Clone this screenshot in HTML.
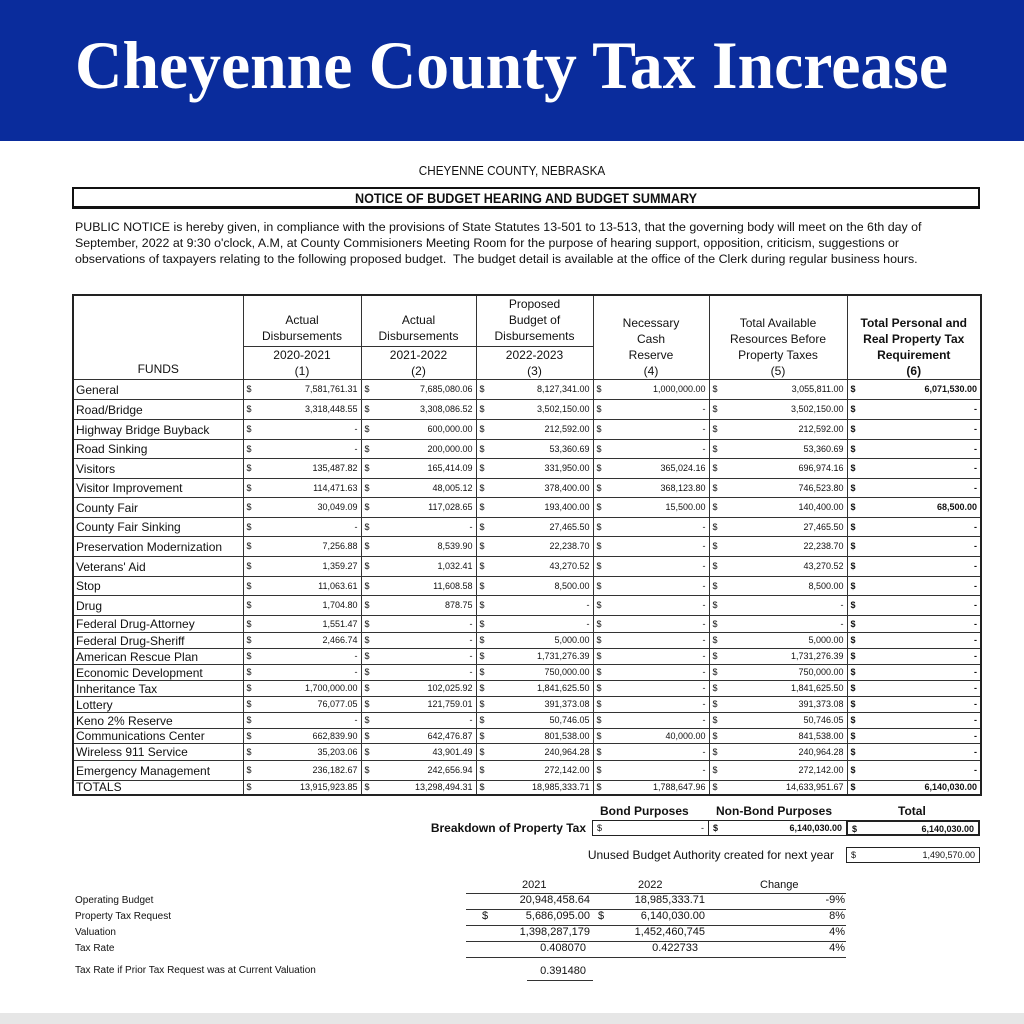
<!DOCTYPE html>
<html><head><meta charset="utf-8"><style>
*{margin:0;padding:0;box-sizing:border-box}
body{width:1024px;height:1024px;background:#fff;position:relative;overflow:hidden;font-family:"Liberation Sans",Arial,sans-serif;color:#111}
.a{position:absolute}
table.m{position:absolute;left:72px;top:294px;border-collapse:collapse;table-layout:fixed;border:2px solid #222}
table.m td{border:1px solid #333;font-size:9px;padding:0 3px;white-space:nowrap;overflow:hidden;text-align:right;vertical-align:middle;line-height:1}
table.m td:first-child{text-align:left;font-size:12px;padding-left:2px}
table.m td i{font-style:normal;float:left}
table.m td.b{font-weight:bold}
table.m tr.h td{text-align:center;font-size:12px;line-height:16px;vertical-align:bottom;padding:0}
.box{position:absolute;border:1.5px solid #222;height:16px;font-size:9px;line-height:14px;padding:0 4px;text-align:right}
.box i{font-style:normal;float:left}
.ln{position:absolute;height:0;border-top:1.5px solid #333}
.lt{position:absolute;font-size:11px}
</style></head><body>
<div class="a" style="left:0;top:0;width:1024px;height:141px;background:#0a2c9c"></div>
<svg class="a" style="left:0;top:0" width="1024" height="141"><text x="75" y="88" textLength="873" lengthAdjust="spacingAndGlyphs" font-family="Liberation Serif, serif" font-weight="bold" font-size="68" fill="#fff">Cheyenne County Tax Increase</text></svg>
<div class="a" style="left:0;top:163px;width:1024px;text-align:center;font-size:13px;transform:scaleX(.9)">CHEYENNE COUNTY, NEBRASKA</div>
<div class="a" style="left:72px;top:187px;width:908px;height:22px;border:2px solid #111;border-bottom-width:3px;text-align:center;font-weight:bold;font-size:14px;line-height:18px"><span style="display:inline-block;transform:scaleX(.9)">NOTICE OF BUDGET HEARING AND BUDGET SUMMARY</span></div>
<div class="a" style="left:75px;top:219px;width:1000px;font-size:12.4px;line-height:16px;white-space:nowrap">PUBLIC NOTICE is hereby given, in compliance with the provisions of State Statutes 13-501 to 13-513, that the governing body will meet on the 6th day of<br>September, 2022 at 9:30 o'clock, A.M, at County Commisioners Meeting Room for the purpose of hearing support, opposition, criticism, suggestions or<br>observations of taxpayers relating to the following proposed budget.&nbsp; The budget detail is available at the office of the Clerk during regular business hours.</div>
<table class="m">
<colgroup><col style="width:170px"><col style="width:118px"><col style="width:115px"><col style="width:117px"><col style="width:116px"><col style="width:138px"><col style="width:134px"></colgroup>
<tr class="h" style="height:83px"><td style="text-align:center;font-size:12px;padding-bottom:2px">FUNDS</td><td>Actual<br>Disbursements<div style="border-top:1px solid #333;margin-top:2px">2020-2021<br>(1)</div></td><td>Actual<br>Disbursements<div style="border-top:1px solid #333;margin-top:2px">2021-2022<br>(2)</div></td><td>Proposed<br>Budget of<br>Disbursements<div style="border-top:1px solid #333;margin-top:2px">2022-2023<br>(3)</div></td><td>Necessary<br>Cash<br>Reserve<br>(4)</td><td>Total Available<br>Resources Before<br>Property Taxes<br>(5)</td><td style="font-weight:bold">Total Personal and<br>Real Property Tax<br>Requirement<br>(6)</td></tr>
<tr style="height:20px"><td>General</td><td><i>$</i>7,581,761.31</td><td><i>$</i>7,685,080.06</td><td><i>$</i>8,127,341.00</td><td><i>$</i>1,000,000.00</td><td><i>$</i>3,055,811.00</td><td class="b"><i>$</i>6,071,530.00</td></tr>
<tr style="height:20px"><td>Road/Bridge</td><td><i>$</i>3,318,448.55</td><td><i>$</i>3,308,086.52</td><td><i>$</i>3,502,150.00</td><td><i>$</i>-</td><td><i>$</i>3,502,150.00</td><td class="b"><i>$</i>-</td></tr>
<tr style="height:20px"><td>Highway Bridge Buyback</td><td><i>$</i>-</td><td><i>$</i>600,000.00</td><td><i>$</i>212,592.00</td><td><i>$</i>-</td><td><i>$</i>212,592.00</td><td class="b"><i>$</i>-</td></tr>
<tr style="height:19px"><td>Road Sinking</td><td><i>$</i>-</td><td><i>$</i>200,000.00</td><td><i>$</i>53,360.69</td><td><i>$</i>-</td><td><i>$</i>53,360.69</td><td class="b"><i>$</i>-</td></tr>
<tr style="height:20px"><td>Visitors</td><td><i>$</i>135,487.82</td><td><i>$</i>165,414.09</td><td><i>$</i>331,950.00</td><td><i>$</i>365,024.16</td><td><i>$</i>696,974.16</td><td class="b"><i>$</i>-</td></tr>
<tr style="height:19px"><td>Visitor Improvement</td><td><i>$</i>114,471.63</td><td><i>$</i>48,005.12</td><td><i>$</i>378,400.00</td><td><i>$</i>368,123.80</td><td><i>$</i>746,523.80</td><td class="b"><i>$</i>-</td></tr>
<tr style="height:20px"><td>County Fair</td><td><i>$</i>30,049.09</td><td><i>$</i>117,028.65</td><td><i>$</i>193,400.00</td><td><i>$</i>15,500.00</td><td><i>$</i>140,400.00</td><td class="b"><i>$</i>68,500.00</td></tr>
<tr style="height:19px"><td>County Fair Sinking</td><td><i>$</i>-</td><td><i>$</i>-</td><td><i>$</i>27,465.50</td><td><i>$</i>-</td><td><i>$</i>27,465.50</td><td class="b"><i>$</i>-</td></tr>
<tr style="height:20px"><td>Preservation Modernization</td><td><i>$</i>7,256.88</td><td><i>$</i>8,539.90</td><td><i>$</i>22,238.70</td><td><i>$</i>-</td><td><i>$</i>22,238.70</td><td class="b"><i>$</i>-</td></tr>
<tr style="height:20px"><td>Veterans' Aid</td><td><i>$</i>1,359.27</td><td><i>$</i>1,032.41</td><td><i>$</i>43,270.52</td><td><i>$</i>-</td><td><i>$</i>43,270.52</td><td class="b"><i>$</i>-</td></tr>
<tr style="height:19px"><td>Stop</td><td><i>$</i>11,063.61</td><td><i>$</i>11,608.58</td><td><i>$</i>8,500.00</td><td><i>$</i>-</td><td><i>$</i>8,500.00</td><td class="b"><i>$</i>-</td></tr>
<tr style="height:20px"><td>Drug</td><td><i>$</i>1,704.80</td><td><i>$</i>878.75</td><td><i>$</i>-</td><td><i>$</i>-</td><td><i>$</i>-</td><td class="b"><i>$</i>-</td></tr>
<tr style="height:17px"><td>Federal Drug-Attorney</td><td><i>$</i>1,551.47</td><td><i>$</i>-</td><td><i>$</i>-</td><td><i>$</i>-</td><td><i>$</i>-</td><td class="b"><i>$</i>-</td></tr>
<tr style="height:16px"><td>Federal Drug-Sheriff</td><td><i>$</i>2,466.74</td><td><i>$</i>-</td><td><i>$</i>5,000.00</td><td><i>$</i>-</td><td><i>$</i>5,000.00</td><td class="b"><i>$</i>-</td></tr>
<tr style="height:16px"><td>American Rescue Plan</td><td><i>$</i>-</td><td><i>$</i>-</td><td><i>$</i>1,731,276.39</td><td><i>$</i>-</td><td><i>$</i>1,731,276.39</td><td class="b"><i>$</i>-</td></tr>
<tr style="height:16px"><td>Economic Development</td><td><i>$</i>-</td><td><i>$</i>-</td><td><i>$</i>750,000.00</td><td><i>$</i>-</td><td><i>$</i>750,000.00</td><td class="b"><i>$</i>-</td></tr>
<tr style="height:16px"><td>Inheritance Tax</td><td><i>$</i>1,700,000.00</td><td><i>$</i>102,025.92</td><td><i>$</i>1,841,625.50</td><td><i>$</i>-</td><td><i>$</i>1,841,625.50</td><td class="b"><i>$</i>-</td></tr>
<tr style="height:16px"><td>Lottery</td><td><i>$</i>76,077.05</td><td><i>$</i>121,759.01</td><td><i>$</i>391,373.08</td><td><i>$</i>-</td><td><i>$</i>391,373.08</td><td class="b"><i>$</i>-</td></tr>
<tr style="height:16px"><td>Keno 2% Reserve</td><td><i>$</i>-</td><td><i>$</i>-</td><td><i>$</i>50,746.05</td><td><i>$</i>-</td><td><i>$</i>50,746.05</td><td class="b"><i>$</i>-</td></tr>
<tr style="height:15px"><td>Communications Center</td><td><i>$</i>662,839.90</td><td><i>$</i>642,476.87</td><td><i>$</i>801,538.00</td><td><i>$</i>40,000.00</td><td><i>$</i>841,538.00</td><td class="b"><i>$</i>-</td></tr>
<tr style="height:17px"><td>Wireless 911 Service</td><td><i>$</i>35,203.06</td><td><i>$</i>43,901.49</td><td><i>$</i>240,964.28</td><td><i>$</i>-</td><td><i>$</i>240,964.28</td><td class="b"><i>$</i>-</td></tr>
<tr style="height:20px"><td>Emergency Management</td><td><i>$</i>236,182.67</td><td><i>$</i>242,656.94</td><td><i>$</i>272,142.00</td><td><i>$</i>-</td><td><i>$</i>272,142.00</td><td class="b"><i>$</i>-</td></tr>
<tr style="height:14px"><td>TOTALS</td><td><i>$</i>13,915,923.85</td><td><i>$</i>13,298,494.31</td><td><i>$</i>18,985,333.71</td><td><i>$</i>1,788,647.96</td><td><i>$</i>14,633,951.67</td><td class="b"><i>$</i>6,140,030.00</td></tr>
</table>
<div class="a" style="left:600px;top:804px;font-weight:bold;font-size:12px">Bond Purposes</div>
<div class="a" style="left:716px;top:804px;font-weight:bold;font-size:12px">Non-Bond Purposes</div>
<div class="a" style="left:898px;top:804px;font-weight:bold;font-size:12px">Total</div>
<div class="a" style="left:380px;top:821px;width:206px;text-align:right;font-weight:bold;font-size:12px">Breakdown of Property Tax</div>
<div class="box" style="left:592px;top:820px;width:117px"><i>$</i>-</div>
<div class="box" style="left:708px;top:820px;width:139px;font-weight:bold"><i>$</i>6,140,030.00</div>
<div class="box" style="left:846px;top:820px;width:134px;font-weight:bold;border-width:2px"><i>$</i>6,140,030.00</div>
<div class="a" style="left:500px;top:848px;width:334px;text-align:right;font-size:12px">Unused Budget Authority created for next year</div>
<div class="box" style="left:846px;top:847px;width:134px"><i>$</i>1,490,570.00</div>
<div class="lt" style="left:522px;top:879px">2021</div>
<div class="lt" style="left:638px;top:879px">2022</div>
<div class="lt" style="left:760px;top:879px">Change</div>
<div class="ln" style="left:466px;top:893px;width:380px"></div>
<div class="ln" style="left:466px;top:909px;width:380px"></div>
<div class="ln" style="left:466px;top:925px;width:380px"></div>
<div class="ln" style="left:466px;top:941px;width:380px"></div>
<div class="ln" style="left:466px;top:957px;width:380px"></div>
<div class="ln" style="left:527px;top:980px;width:66px;border-width:1px"></div>
<div class="lt" style="left:75px;top:895px;font-size:10px">Operating Budget</div>
<div class="lt" style="left:75px;top:911px;font-size:10px">Property Tax Request</div>
<div class="lt" style="left:75px;top:927px;font-size:10px">Valuation</div>
<div class="lt" style="left:75px;top:943px;font-size:10px">Tax Rate</div>
<div class="lt" style="left:75px;top:965px;font-size:10px">Tax Rate if Prior Tax Request was at Current Valuation</div>
<div class="lt" style="left:490px;top:894px;width:100px;text-align:right">20,948,458.64</div>
<div class="lt" style="left:600px;top:894px;width:105px;text-align:right">18,985,333.71</div>
<div class="lt" style="left:745px;top:894px;width:100px;text-align:right">-9%</div>
<div class="lt" style="left:482px;top:910px">$</div>
<div class="lt" style="left:490px;top:910px;width:100px;text-align:right">5,686,095.00</div>
<div class="lt" style="left:598px;top:910px">$</div>
<div class="lt" style="left:600px;top:910px;width:105px;text-align:right">6,140,030.00</div>
<div class="lt" style="left:745px;top:910px;width:100px;text-align:right">8%</div>
<div class="lt" style="left:490px;top:926px;width:100px;text-align:right">1,398,287,179</div>
<div class="lt" style="left:600px;top:926px;width:105px;text-align:right">1,452,460,745</div>
<div class="lt" style="left:745px;top:926px;width:100px;text-align:right">4%</div>
<div class="lt" style="left:490px;top:942px;width:96px;text-align:right">0.408070</div>
<div class="lt" style="left:600px;top:942px;width:98px;text-align:right">0.422733</div>
<div class="lt" style="left:745px;top:942px;width:100px;text-align:right">4%</div>
<div class="lt" style="left:490px;top:965px;width:96px;text-align:right">0.391480</div>
<div class="a" style="left:0;top:1013px;width:1024px;height:11px;background:#e6e6e6"></div>
</body></html>
